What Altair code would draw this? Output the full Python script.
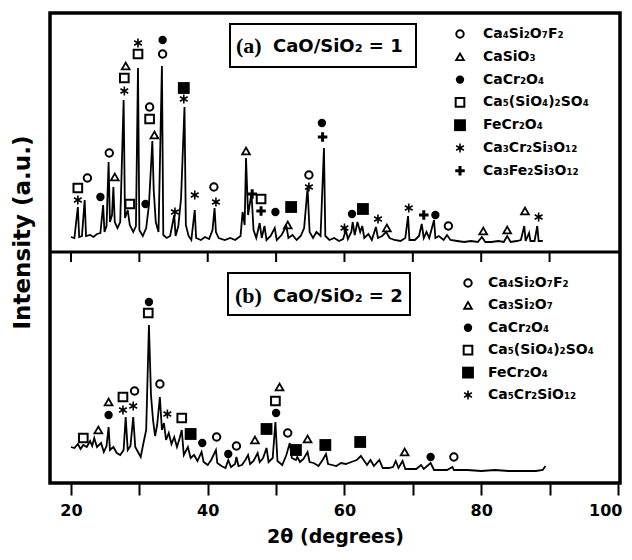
import altair as alt
import pandas as pd

# ---------------- pattern (a) CaO/SiO2 = 1 ----------------
two_theta_a = [
    20.0, 20.5, 21.0, 21.2, 21.6, 22.0, 22.2, 22.8, 23.3, 23.8,
    24.3, 24.7, 24.9, 25.2, 25.5, 25.7, 26.0, 26.2, 26.4, 26.8,
    27.2, 27.7, 27.9, 28.3, 28.6, 29.1, 29.5, 29.8, 30.0, 30.5,
    31.0, 31.4, 31.9, 32.1, 32.4, 32.8, 33.3, 33.5, 34.0, 34.5,
    35.1, 35.3, 35.7, 36.1, 36.6, 36.8, 37.2, 37.6, 38.1, 38.3,
    39.0, 39.6, 40.2, 40.7, 41.0, 41.2, 41.6, 42.5, 43.3, 44.0,
    44.8, 45.1, 45.4, 45.6, 45.9, 46.4, 46.7, 47.1, 47.6, 47.9,
    48.3, 48.6, 49.2, 49.8, 50.1, 50.8, 51.5, 51.8, 52.4, 53.0,
    53.6, 54.1, 54.6, 54.9, 55.4, 55.9, 56.5, 57.0, 57.2, 57.8,
    58.5, 59.2, 59.8, 60.2, 60.5, 61.0, 61.2, 61.5, 61.9, 62.3,
    62.6, 62.9, 63.5, 64.0, 64.6, 64.9, 65.5, 66.1, 66.6, 67.3,
    68.2, 68.9, 69.3, 69.5, 70.3, 70.9, 71.3, 71.6, 72.0, 72.4,
    73.1, 73.3, 73.8, 74.5, 75.0, 75.5, 76.5, 77.5, 78.5, 79.5,
    80.1, 80.6, 81.5, 82.5, 83.3, 83.8, 84.3, 85.2, 85.8, 86.3,
    86.5, 87.0, 87.2, 87.8, 88.2, 88.4, 89.0,
]
intensity_a = [
    15, 14, 45, 15, 16, 52, 16, 17, 15, 18,
    19, 47, 20, 26, 90, 30, 37, 65, 30, 24,
    30, 152, 34, 42, 27, 20, 26, 184, 22, 16,
    24, 47, 111, 62, 30, 20, 186, 17, 14, 16,
    37, 16, 26, 54, 145, 27, 16, 12, 42, 14,
    12, 15, 13, 22, 44, 20, 14, 12, 14, 12,
    16, 40, 27, 94, 37, 59, 22, 14, 29, 14,
    26, 12, 16, 24, 12, 17, 26, 14, 17, 12,
    16, 24, 64, 20, 14, 20, 16, 104, 16, 12,
    14, 11, 13, 22, 13, 20, 30, 17, 30, 20,
    26, 14, 18, 12, 25, 14, 16, 20, 14, 12,
    11, 14, 36, 12, 12, 16, 28, 14, 20, 14,
    32, 14, 16, 12, 17, 12, 11, 10, 11, 10,
    15, 10, 10, 11, 10, 16, 10, 11, 12, 26,
    11, 19, 11, 11, 26, 11, 11,
]

# ---------------- pattern (b) CaO/SiO2 = 2 ----------------
two_theta_b = [
    20.0, 20.5, 21.0, 21.4, 21.8, 22.3, 22.8, 23.1, 23.4, 23.8,
    24.4, 24.8, 25.2, 25.5, 25.7, 26.2, 26.7, 27.2, 27.7, 28.0,
    28.3, 28.7, 29.1, 29.4, 29.8, 30.2, 30.6, 31.0, 31.4, 31.7,
    32.0, 32.3, 32.6, 33.0, 33.3, 33.6, 33.9, 34.3, 34.7, 35.1,
    35.5, 35.9, 36.2, 36.5, 37.1, 37.5, 38.0, 38.5, 39.1, 39.4,
    40.0, 40.5, 41.2, 41.4, 42.0, 42.6, 43.0, 43.4, 44.0, 44.2,
    44.5, 45.0, 45.5, 45.9, 46.2, 46.7, 47.3, 47.6, 48.1, 48.6,
    48.9, 49.5, 49.9, 50.2, 50.9, 51.5, 52.0, 52.3, 52.9, 53.1,
    53.5, 54.0, 54.6, 54.9, 55.5, 56.2, 56.8, 57.3, 57.6, 58.2,
    58.8, 59.5, 60.2, 61.0, 61.8, 62.4, 62.8, 63.3, 63.8, 64.3,
    65.1, 65.6, 66.5, 67.1, 67.5, 67.9, 68.5, 68.9, 69.7, 70.5,
    71.2, 71.6, 72.6, 73.1, 74.0, 75.0, 75.8, 76.0, 78.0, 80.0,
    82.0, 84.0, 86.0, 88.0, 89.0, 89.4,
]
intensity_b = [
    36, 35, 39, 34, 38, 36, 42, 37, 45, 36,
    40, 31, 37, 56, 33, 36, 30, 28, 33, 66,
    33, 37, 66, 36, 31, 26, 40, 53, 158, 88,
    63, 47, 58, 86, 53, 60, 43, 50, 39, 46,
    36, 45, 53, 28, 36, 25, 28, 22, 31, 21,
    18, 23, 33, 20, 17, 15, 23, 16, 19, 26,
    17, 18, 23, 28, 19, 22, 30, 21, 25, 35,
    21, 25, 61, 22, 18, 28, 40, 25, 23, 26,
    21, 24, 31, 21, 20, 17, 23, 29, 19, 18,
    17, 20, 19, 21, 23, 27, 23, 18, 23, 17,
    23, 15, 15, 16, 22, 15, 22, 14, 14, 14,
    18, 14, 20, 13, 13, 13, 16, 13, 13, 12,
    13, 12, 12, 12, 13, 17,
]

# ---------------- phase markers above the peaks ----------------
peak_theta_a = [21.0, 21.0, 22.4, 24.3, 25.6, 26.4, 28.6, 28.0, 27.8, 27.8,
                29.8, 29.8, 30.9, 31.5, 31.5, 32.2, 33.4, 33.4, 36.5, 36.5,
                35.2, 38.1, 40.9, 41.2, 45.6, 46.5, 47.8, 47.8, 49.9, 52.2,
                51.7, 54.8, 54.8, 56.7, 56.8, 60.0, 61.1, 62.7, 64.9, 66.2,
                69.4, 71.6, 73.3, 75.2, 80.3, 83.8, 86.4, 88.4]
peak_height_a = [64, 52, 74, 55, 99, 75, 48, 186, 174, 161,
                 209, 198, 48, 145, 133, 117, 212, 198, 164, 153,
                 40, 57, 65, 50, 101, 58, 53, 41, 40, 45,
                 27, 77, 65, 129, 115, 24, 38, 43, 33, 24,
                 44, 37, 37, 26, 21, 22, 41, 35]
peak_phase_a = ["sq_open", "aster", "circ_open", "circ_fill", "circ_open", "tri_open", "sq_open", "tri_open", "sq_open", "aster",
                "aster", "sq_open", "circ_fill", "circ_open", "sq_open", "tri_open", "circ_fill", "circ_open", "sq_fill", "aster",
                "aster", "aster", "circ_open", "aster", "tri_open", "plus", "sq_open", "plus", "circ_fill", "sq_fill",
                "tri_open", "circ_open", "aster", "circ_fill", "plus", "aster", "circ_fill", "sq_fill", "aster", "tri_open",
                "aster", "plus", "circ_fill", "circ_open", "tri_open", "tri_open", "tri_open", "aster"]

peak_theta_b = [21.8, 24.0, 25.5, 25.5, 27.6, 29.1, 27.6, 29.3, 31.4, 31.3,
                33.0, 34.1, 36.2, 37.5, 39.2, 41.3, 43.0, 44.2, 46.9, 48.6,
                50.5, 49.9, 50.0, 51.7, 52.9, 54.6, 57.2, 62.3, 68.8, 72.6,
                76.0]
peak_height_b = [45, 53, 81, 68, 73, 77, 86, 92, 181, 170,
                 99, 69, 65, 49, 40, 46, 29, 37, 43, 54,
                 96, 82, 70, 50, 33, 44, 38, 41, 31, 26,
                 26]
peak_phase_b = ["sq_open", "tri_open", "tri_open", "circ_fill", "aster", "aster", "sq_open", "circ_open", "circ_fill", "sq_open",
                "circ_open", "aster", "sq_open", "sq_fill", "circ_fill", "circ_open", "circ_fill", "circ_open", "tri_open", "sq_fill",
                "tri_open", "sq_open", "circ_fill", "circ_open", "sq_fill", "tri_open", "sq_fill", "sq_fill", "tri_open", "circ_fill",
                "circ_open"]

# ---------------- legends and labels ----------------
legend_labels_a = ["Ca₄Si₂O₇F₂", "CaSiO₃", "CaCr₂O₄", "Ca₅(SiO₄)₂SO₄",
                   "FeCr₂O₄", "Ca₃Cr₂Si₃O₁₂", "Ca₃Fe₂Si₃O₁₂"]
legend_symbols_a = ["circ_open", "tri_open", "circ_fill", "sq_open",
                    "sq_fill", "aster", "plus"]
legend_labels_b = ["Ca₄Si₂O₇F₂", "Ca₃Si₂O₇", "CaCr₂O₄", "Ca₅(SiO₄)₂SO₄",
                   "FeCr₂O₄", "Ca₅Cr₂SiO₁₂"]
legend_symbols_b = ["circ_open", "tri_open", "circ_fill", "sq_open",
                    "sq_fill", "aster"]
panel_tags = ["(a)", "(b)"]
panel_ratios = ["CaO/SiO₂  = 1", "CaO/SiO₂  = 2"]
axis_ticks = [20, 30, 40, 50, 60, 70, 80, 90, 100]
inner_ticks = [20, 30, 40, 50, 60, 70, 80, 90]

# ---------------- layout helpers ----------------
W, H = 570, 470
X_MIN, X_MAX = 16.93, 100.3
Y_MAX = 470
OFFSET_A = 231  # vertical offset of pattern (a) in the stack


def px2theta(px):
    return X_MIN + px * (X_MAX - X_MIN) / W


def py2y(py):
    return Y_MAX - py * Y_MAX / H


xs = alt.Scale(domain=[X_MIN, X_MAX], nice=False, zero=False)
ys = alt.Scale(domain=[0, Y_MAX], nice=False, zero=False)

trace = pd.concat([
    pd.DataFrame({"theta": two_theta_a, "y": [v + OFFSET_A for v in intensity_a], "panel": "a"}),
    pd.DataFrame({"theta": two_theta_b, "y": intensity_b, "panel": "b"}),
], ignore_index=True)

markers = pd.concat([
    pd.DataFrame({"theta": peak_theta_a, "y": [v + OFFSET_A for v in peak_height_a], "sym": peak_phase_a}),
    pd.DataFrame({"theta": peak_theta_b, "y": peak_height_b, "sym": peak_phase_b}),
], ignore_index=True)

leg_rows = []
for i, (lab, sym) in enumerate(zip(legend_labels_a, legend_symbols_a)):
    leg_rows.append({"sx": px2theta(410), "tx": px2theta(433), "y": py2y(21 + 22.8 * i), "label": lab, "sym": sym})
for i, (lab, sym) in enumerate(zip(legend_labels_b, legend_symbols_b)):
    leg_rows.append({"sx": px2theta(418), "tx": px2theta(438), "y": py2y(270 + 22.4 * i), "label": lab, "sym": sym})
legend = pd.DataFrame(leg_rows)

boxes = pd.DataFrame({
    "theta": [px2theta(180), px2theta(178)],
    "theta2": [px2theta(366), px2theta(360)],
    "y": [py2y(11), py2y(260)],
    "y2": [py2y(54), py2y(302)],
})
tags = pd.DataFrame({"theta": [px2theta(186), px2theta(185)],
                     "y": [py2y(33), py2y(283)], "text": panel_tags})
ratios = pd.DataFrame({"theta": [px2theta(223), px2theta(223)],
                       "y": [py2y(34), py2y(284)], "text": panel_ratios})

ASTER = "M0,-1L0,1M-0.87,-0.5L0.87,0.5M-0.87,0.5L0.87,-0.5"
PLUS = "M-1,0L1,0M0,-1L0,1"
STYLE = {
    "circ_open": dict(shape="circle", filled=False, strokeWidth=2, size=55),
    "tri_open": dict(shape="triangle-up", filled=False, strokeWidth=1.8, size=60),
    "circ_fill": dict(shape="circle", filled=True, size=70),
    "sq_open": dict(shape="square", filled=False, strokeWidth=2, size=75),
    "sq_fill": dict(shape="square", filled=True, size=140),
    "aster": dict(shape=ASTER, filled=False, strokeWidth=1.6, size=80),
    "plus": dict(shape=PLUS, filled=False, strokeWidth=3, size=90),
}

FONT = "DejaVu Sans"
x_axis = alt.Axis(
    values=axis_ticks, labelExpr="datum.value % 20 == 0 ? datum.label : ''",
    tickSize=12, tickWidth=2, tickColor="black", domain=False, grid=False,
    labelFont=FONT, labelFontSize=16, labelFontWeight="bold", labelColor="black",
    labelPadding=7, labelFlush=4, labelFlushOffset=4, labelOverlap=False,
    title="2θ (degrees)", titleFont=FONT, titleFontSize=19, titleFontWeight="bold",
    titleColor="black", titlePadding=9,
)
y_axis = alt.Axis(
    labels=False, ticks=False, domain=False, grid=False,
    title="Intensity (a.u.)", titleFont=FONT, titleFontSize=23, titleFontWeight="bold",
    titleColor="black", titleX=-28, titleY=219, titleAlign="center", titleBaseline="middle",
    titleAngle=270,
)


def X(field):
    return alt.X(field, type="quantitative", scale=xs, axis=x_axis)


def Y(field):
    return alt.Y(field, type="quantitative", scale=ys, axis=y_axis)


layers = []
layers.append(
    alt.Chart(trace).mark_line(color="black", strokeWidth=1.8, strokeJoin="miter").encode(
        x=X("theta"), y=Y("y"), detail="panel:N", order="theta:Q",
    )
)
# divider between the two patterns and its inner ticks
layers.append(
    alt.Chart(pd.DataFrame({"y": [OFFSET_A]})).mark_rule(color="black", strokeWidth=3).encode(
        y=Y("y")
    )
)
layers.append(
    alt.Chart(pd.DataFrame({"theta": inner_ticks, "y": OFFSET_A, "y2": OFFSET_A - 10}))
    .mark_rule(color="black", strokeWidth=2).encode(
        x=X("theta"), y=Y("y"), y2="y2:Q",
    )
)
for key, st in STYLE.items():
    sub = markers[markers["sym"] == key]
    if len(sub):
        layers.append(
            alt.Chart(sub).mark_point(color="black", opacity=1, **st).encode(
                x=X("theta"), y=Y("y"),
            )
        )
    lsub = legend[legend["sym"] == key]
    if len(lsub):
        layers.append(
            alt.Chart(lsub).mark_point(color="black", opacity=1, **st).encode(
                x=X("sx"), y=Y("y"),
            )
        )
layers.append(
    alt.Chart(legend).mark_text(font=FONT, fontSize=14, fontWeight="bold", color="black",
                                align="left", baseline="middle").encode(
        x=X("tx"), y=Y("y"), text="label:N",
    )
)
layers.append(
    alt.Chart(boxes).mark_rect(fill="white", stroke="black", strokeWidth=2).encode(
        x=X("theta"), x2="theta2:Q", y=Y("y"), y2="y2:Q",
    )
)
layers.append(
    alt.Chart(tags).mark_text(font="Liberation Serif", fontSize=22, fontWeight="bold", color="black",
                              align="left", baseline="middle").encode(
        x=X("theta"), y=Y("y"), text="text:N",
    )
)
layers.append(
    alt.Chart(ratios).mark_text(font=FONT, fontSize=18, fontWeight="bold", color="black",
                                align="left", baseline="middle").encode(
        x=X("theta"), y=Y("y"), text="text:N",
    )
)

chart = alt.layer(*layers).properties(
    width=W, height=H,
    autosize=alt.AutoSizeParams(type="none"),
    padding={"left": 42, "top": 5, "right": 4, "bottom": 64},
    background="white",
).configure_view(stroke="black", strokeWidth=3.5)

chart.save("out.html", embed_options={"renderer": "svg", "actions": False})
